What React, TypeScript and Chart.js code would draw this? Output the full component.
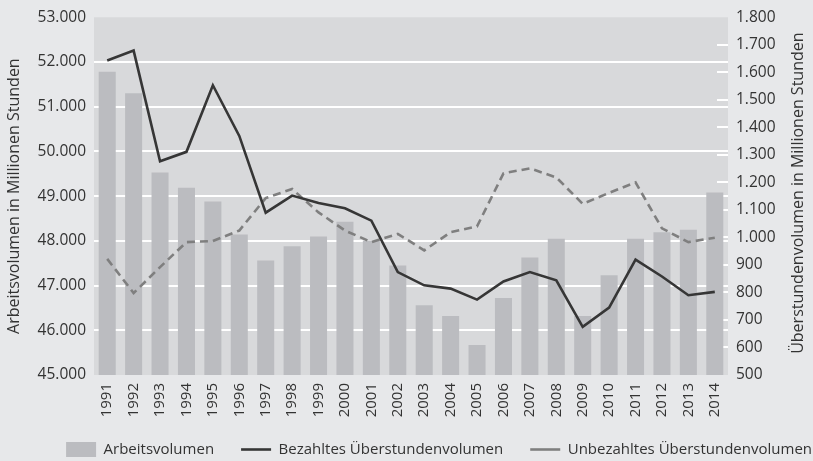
import React, { useEffect, useRef } from 'react';
import { Chart, registerables } from 'chart.js';

Chart.register(...registerables);

const years = ['1991','1992','1993','1994','1995','1996','1997','1998','1999','2000','2001','2002','2003','2004','2005','2006','2007','2008','2009','2010','2011','2012','2013','2014'];
const arbeitsvolumen = [51780, 51300, 49530, 49190, 48880, 48140, 47560, 47880, 48100, 48430, 48010, 47450, 46560, 46320, 45670, 46720, 47630, 48050, 46320, 47230, 48050, 48190, 48250, 49080];
const bezahlt = [1643, 1679, 1277, 1311, 1553, 1369, 1090, 1152, 1125, 1106, 1061, 874, 826, 814, 774, 840, 874, 844, 675, 745, 919, 858, 790, 802];
const unbezahlt = [922, 798, 892, 983, 987, 1025, 1143, 1176, 1091, 1025, 983, 1013, 953, 1019, 1040, 1233, 1251, 1218, 1122, 1162, 1200, 1033, 983, 999];
const leftRange = [45000, 53000, 1000];
const rightRange = [500, 1800, 100];
const leftTitle = 'Arbeitsvolumen in Millionen Stunden';
const rightTitle = 'Überstundenvolumen in Millionen Stunden';
const seriesNames = ['Arbeitsvolumen', 'Bezahltes Überstundenvolumen', 'Unbezahltes Überstundenvolumen'];

const PAGE_BG = '#e7e8ea';
const PLOT_BG = '#d8d9db';
const BAR = '#bbbcc0';
const SOLID = '#363636';
const DASHED = '#7f7f7f';
const TEXT = '#333333';
const FONT = "'Open Sans', 'DejaVu Sans', sans-serif";

const fmt = (v: number) => String(v).replace(/\B(?=(\d{3})+(?!\d))/g, '.');

const decor = {
  id: 'decor',
  afterLayout(chart: any) {
    const lg = chart.legend;
    if (!lg) return;
    const dx = 26;
    const dy = -6;
    lg.left += dx; lg.right += dx;
    lg.top += dy; lg.bottom += dy;
  },
  beforeDraw(chart: any) {
    const { ctx, chartArea: a, width, height } = chart;
    ctx.save();
    ctx.fillStyle = PAGE_BG;
    ctx.fillRect(0, 0, width, height);
    ctx.fillStyle = PLOT_BG;
    ctx.fillRect(a.left, a.top, a.right - a.left, a.bottom - a.top);
    ctx.restore();
  },
  beforeDatasetsDraw(chart: any) {
    const { ctx, chartArea: a } = chart;
    const s = chart.scales.y1;
    ctx.save();
    ctx.strokeStyle = '#ffffff';
    ctx.lineWidth = 2;
    ctx.beginPath();
    s.ticks.forEach((t: any) => {
      if (t.value > s.min && t.value < s.max) {
        const y = Math.round(s.getPixelForValue(t.value));
        ctx.moveTo(a.right - 11, y);
        ctx.lineTo(a.right, y);
      }
    });
    ctx.stroke();
    ctx.restore();
  },
  afterDraw(chart: any) {
    const { ctx, chartArea: a } = chart;
    const s = chart.scales.y1;
    ctx.save();
    ctx.translate(s.right - 15, (a.top + a.bottom) / 2 - 3);
    ctx.rotate(-Math.PI / 2);
    ctx.fillStyle = TEXT;
    ctx.font = `16px ${FONT}`;
    ctx.textAlign = 'center';
    ctx.textBaseline = 'middle';
    ctx.fillText(rightTitle, 0, 0);
    ctx.restore();
  },
};

export default function App() {
  const ref = useRef<HTMLCanvasElement | null>(null);
  useEffect(() => {
    document.body.style.margin = '0';
    const canvas = ref.current;
    if (!canvas) return;
    const chart = new Chart(canvas, {
      data: {
        labels: years,
        datasets: [
          {
            type: 'bar',
            label: seriesNames[0],
            data: arbeitsvolumen,
            yAxisID: 'y',
            backgroundColor: BAR,
            borderWidth: 0,
            barPercentage: 0.645,
            categoryPercentage: 1,
            order: 3,
            pointStyle: 'rect',
          } as any,
          {
            type: 'line',
            label: seriesNames[1],
            data: bezahlt,
            yAxisID: 'y1',
            borderColor: SOLID,
            backgroundColor: SOLID,
            borderWidth: 2.6,
            pointRadius: 0,
            tension: 0,
            order: 1,
            pointStyle: 'line',
          } as any,
          {
            type: 'line',
            label: seriesNames[2],
            data: unbezahlt,
            yAxisID: 'y1',
            borderColor: DASHED,
            backgroundColor: DASHED,
            borderWidth: 2.6,
            borderDash: [8, 5],
            pointRadius: 0,
            tension: 0,
            order: 2,
            pointStyle: 'line',
          } as any,
        ],
      },
      options: {
        responsive: false,
        animation: false,
        layout: { padding: { top: 16, left: 0, right: 0, bottom: -12 } },
        plugins: {
          tooltip: { enabled: false },
          legend: {
            position: 'bottom',
            align: 'end',
            labels: {
              usePointStyle: true,
              pointStyleWidth: 30,
              boxWidth: 30,
              boxHeight: 15,
              padding: 27,
              color: TEXT,
              font: { family: FONT, size: 15 },
              sort: (a: any, b: any) => a.datasetIndex - b.datasetIndex,
            },
          },
        },
        scales: {
          x: {
            grid: { display: false, drawTicks: false },
            border: { display: false },
            ticks: {
              maxRotation: 90,
              minRotation: 90,
              padding: 8,
              color: TEXT,
              font: { family: FONT, size: 15 },
              autoSkip: false,
            },
            afterFit: (s: any) => { s.height = 46; },
          },
          y: {
            position: 'left',
            min: leftRange[0],
            max: leftRange[1],
            border: { display: false },
            grid: {
              drawTicks: false,
              lineWidth: 2,
              color: (c: any) => (c.tick && (c.tick.value === leftRange[0] || c.tick.value === leftRange[1]) ? 'rgba(0,0,0,0)' : '#ffffff'),
            },
            ticks: {
              stepSize: leftRange[2],
              padding: 8,
              color: TEXT,
              font: { family: FONT, size: 15.5 },
              callback: (v: any) => fmt(Number(v)),
            },
            title: {
              display: true,
              text: leftTitle,
              color: TEXT,
              font: { family: FONT, size: 16 },
              padding: { top: 5, bottom: 0 },
            },
            afterFit: (s: any) => { s.width = 94; },
          },
          y1: {
            position: 'right',
            min: rightRange[0],
            max: rightRange[1],
            border: { display: false },
            grid: { drawOnChartArea: false, drawTicks: false },
            ticks: {
              stepSize: rightRange[2],
              padding: 8,
              color: TEXT,
              font: { family: FONT, size: 15.5 },
              callback: (v: any) => fmt(Number(v)),
            },
            afterFit: (s: any) => { s.width = 85; },
          },
        },
      } as any,
      plugins: [decor as any],
    });
    return () => chart.destroy();
  }, []);
  return (
    <div style={{ width: 813, height: 461 }}>
      <canvas ref={ref} width={813} height={461} style={{ display: 'block' }} />
    </div>
  );
}
